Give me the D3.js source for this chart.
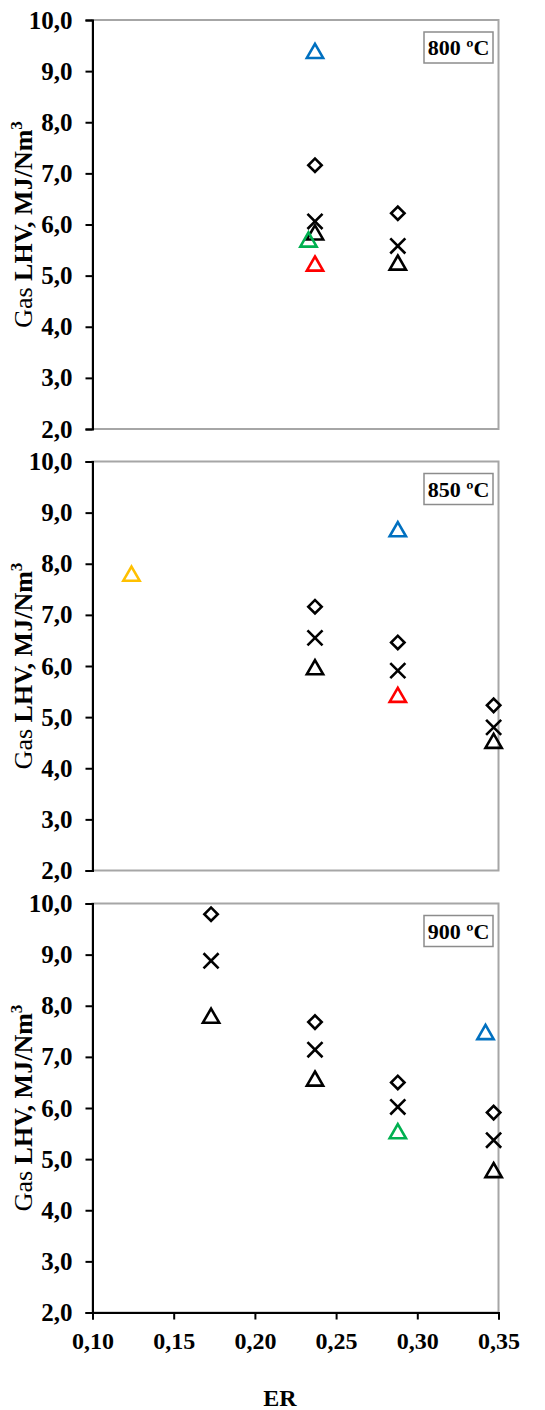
<!DOCTYPE html>
<html>
<head>
<meta charset="utf-8">
<script src="https://cdn.jsdelivr.net/npm/d3@7"></script>
<style>
  body { margin: 0; background: #fff; }
  text { font-family: "Liberation Serif", "Times New Roman", serif; font-weight: bold; fill: #000; }
</style>
</head>
<body>
<div id="chart"></div>
<script>
// panel labels (one panel per gasification temperature)
const temps = ['800 ºC', '850 ºC', '900 ºC'];

// y axis ticks and x axis ticks
const yTicks = [2, 3, 4, 5, 6, 7, 8, 9, 10];
const xTicks = [0.10, 0.15, 0.20, 0.25, 0.30, 0.35];

// series values, one list of [ER, LHV] per panel
const diamondPts = [
  [[0.237, 7.16], [0.288, 6.22]],
  [[0.237, 7.16], [0.288, 6.46], [0.347, 5.23]],
  [[0.173, 9.79], [0.237, 7.68], [0.288, 6.50], [0.347, 5.91]]
];
const crossPts = [
  [[0.237, 6.06], [0.288, 5.58]],
  [[0.237, 6.55], [0.288, 5.91], [0.347, 4.80]],
  [[0.173, 8.88], [0.237, 7.14], [0.288, 6.02], [0.347, 5.37]]
];
const trianglePts = [
  [[0.237, 5.80], [0.288, 5.21]],
  [[0.237, 5.93], [0.347, 4.49]],
  [[0.173, 7.76], [0.237, 6.53], [0.347, 4.74]]
];
const bluePts = [
  [[0.237, 9.35]],
  [[0.288, 8.63]],
  [[0.342, 7.44]]
];
const redPts = [
  [[0.237, 5.19]],
  [[0.288, 5.39]],
  []
];
const greenPts = [
  [[0.233, 5.66]],
  [],
  [[0.288, 5.50]]
];
const orangePts = [
  [],
  [[0.124, 7.76]],
  []
];

const W = 545, H = 1410;
const left = 92.5, right = 498.5;
const panelTops = [20, 461.5, 903.5];
const panelH = 409;
const serif = '"Liberation Serif", "Times New Roman", serif';

const svg = d3.select('#chart').append('svg')
  .attr('width', W)
  .attr('height', H);

const x = d3.scaleLinear().domain([0.10, 0.35]).range([left, right]);
const fmt1 = d => d3.format('.1f')(d).replace('.', ',');
const fmt2 = d => d3.format('.2f')(d).replace('.', ',');

const triangle = d3.symbol().type(d3.symbolTriangle).size(115);
const diamond = d3.symbol().type(d3.symbolSquare).size(90);
const cross = d3.symbol().type(d3.symbolX).size(150);

temps.forEach((t, i) => {
  const top = panelTops[i];
  const y = d3.scaleLinear().domain([2, 10]).range([top + panelH, top]);
  const g = svg.append('g');

  // plot area frame
  g.append('rect')
    .attr('x', left).attr('y', top)
    .attr('width', right - left).attr('height', panelH)
    .attr('fill', 'none')
    .attr('stroke', '#a6a6a6')
    .attr('stroke-width', 2);

  // y axis
  const yAxis = g.append('g')
    .attr('transform', `translate(${left},0)`)
    .call(d3.axisLeft(y).tickValues(yTicks).tickSize(7).tickPadding(13).tickFormat(fmt1));
  yAxis.select('.domain').attr('stroke', '#000').attr('stroke-width', 2);
  yAxis.selectAll('.tick line').attr('stroke', '#000').attr('stroke-width', 2);
  yAxis.selectAll('text')
    .style('font-family', serif)
    .style('font-weight', 'bold')
    .style('font-size', '25px')
    .attr('fill', '#000');

  // x axis only on the last panel
  if (i === temps.length - 1) {
    const xAxis = g.append('g')
      .attr('transform', `translate(0,${top + panelH})`)
      .call(d3.axisBottom(x).tickValues(xTicks).tickSize(7).tickPadding(12).tickFormat(fmt2));
    xAxis.select('.domain').attr('stroke', '#000').attr('stroke-width', 2);
    xAxis.selectAll('.tick line').attr('stroke', '#000').attr('stroke-width', 2);
    xAxis.selectAll('text')
      .style('font-family', serif)
      .style('font-weight', 'bold')
      .style('font-size', '24px')
      .attr('fill', '#000');
  }

  // y axis title
  const yt = g.append('text')
    .attr('transform', `translate(32,${top + panelH / 2}) rotate(-90)`)
    .attr('text-anchor', 'middle')
    .style('font-size', '26px');
  yt.append('tspan').style('font-weight', 'normal').text('Gas ');
  yt.append('tspan').text('LHV, MJ/Nm');
  yt.append('tspan').attr('dy', -10).style('font-size', '17px').text('3');

  // temperature label box
  g.append('rect')
    .attr('x', 424).attr('y', top + 12)
    .attr('width', 69).attr('height', 31)
    .attr('fill', '#fff')
    .attr('stroke', '#8c8c8c')
    .attr('stroke-width', 1.5);
  g.append('text')
    .attr('x', 458.5).attr('y', top + 35)
    .attr('text-anchor', 'middle')
    .style('font-size', '22px')
    .text(t);

  // markers
  const draw = (pts, sym, color, rot) => {
    g.selectAll(null)
      .data(pts)
      .enter()
      .append('path')
      .attr('d', sym)
      .attr('transform', d => `translate(${x(d[0])},${y(d[1])})` + (rot ? ` rotate(${rot})` : ''))
      .attr('fill', 'none')
      .attr('stroke', color)
      .attr('stroke-width', 2.6);
  };
  draw(diamondPts[i], diamond, '#000', 45);
  draw(crossPts[i], cross, '#000', 0);
  draw(trianglePts[i], triangle, '#000', 0);
  draw(bluePts[i], triangle, '#0070c0', 0);
  draw(redPts[i], triangle, '#ff0000', 0);
  draw(greenPts[i], triangle, '#00b050', 0);
  draw(orangePts[i], triangle, '#ffc000', 0);
});

// x axis title
svg.append('text')
  .attr('x', 280)
  .attr('y', 1406)
  .attr('text-anchor', 'middle')
  .style('font-size', '24px')
  .text('ER');
</script>
</body>
</html>
